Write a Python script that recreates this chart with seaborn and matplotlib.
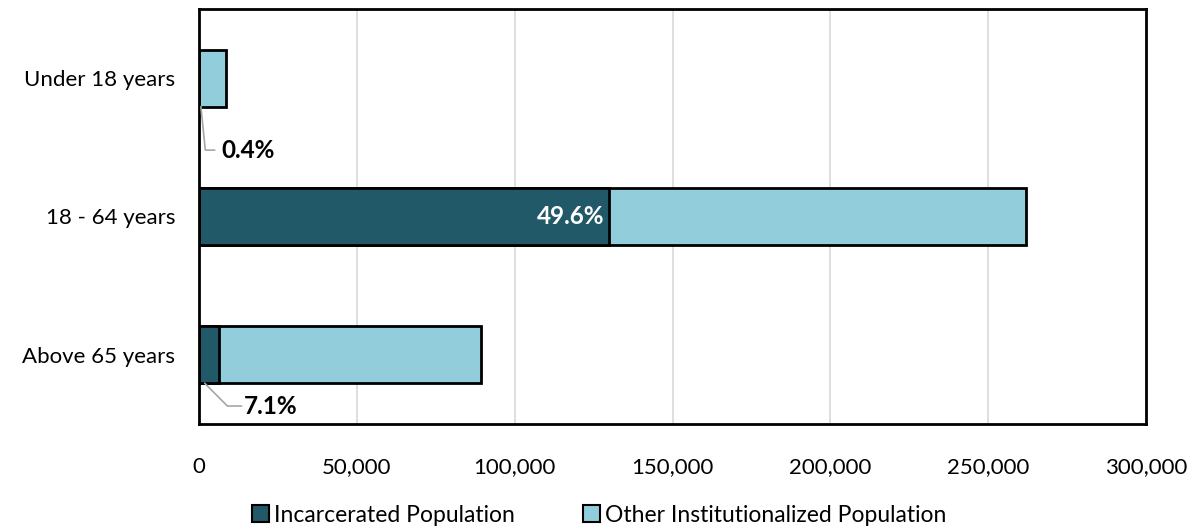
import matplotlib
matplotlib.use("Agg")
import matplotlib.pyplot as plt
import seaborn as sns
import pandas as pd
import numpy as np
from matplotlib.ticker import FuncFormatter
from matplotlib.patches import Patch

# Institutionalized population by age group
age_groups = ["Under 18 years", "18 - 64 years", "Above 65 years"]
incarcerated = [34, 129900, 6340]
other_institutionalized = [8500, 132100, 82960]
pct_labels = ["0.4%", "49.6%", "7.1%"]

dark = "#215968"
light = "#92CDDC"

sns.set_theme(style="white")
plt.rcParams["font.family"] = ["Lato", "DejaVu Sans"]
plt.rcParams["text.color"] = "black"

df = pd.DataFrame({
    "age": age_groups,
    "incarcerated": incarcerated,
    "total": np.array(incarcerated) + np.array(other_institutionalized),
})

fig = plt.figure(figsize=(11.98, 5.29), dpi=100)
ax = fig.add_axes([199 / 1198, 1 - 424 / 529, (1146 - 199) / 1198, (424 - 9) / 529])

# stacked bars: full total in light, incarcerated share drawn over it
sns.barplot(data=df, y="age", x="total", color=light, edgecolor="black",
            linewidth=2, width=0.41, orient="h", saturation=1, ax=ax, zorder=3)
sns.barplot(data=df, y="age", x="incarcerated", color=dark, edgecolor="black",
            linewidth=2, width=0.41, orient="h", saturation=1, ax=ax, zorder=4)

ax.set_xlim(0, 300000)
ax.set_ylim(2.5, -0.5)
ax.set_xticks(np.arange(0, 300001, 50000))
ax.xaxis.set_major_formatter(FuncFormatter(lambda v, _: f"{int(v):,}"))
ax.grid(axis="x", color="#d9d9d9", linewidth=1.2, zorder=0)
ax.set_axisbelow(True)
ax.set_xlabel("")
ax.set_ylabel("")
ax.tick_params(axis="x", pad=24, labelsize=16, length=0, colors="black")
ax.tick_params(axis="y", pad=17, labelsize=16, length=0, colors="black")
for s in ax.spines.values():
    s.set_visible(True)
    s.set_color("black")
    s.set_linewidth(2)
    s.set_zorder(5)

# value labels
lead = dict(color="#a6a6a6", lw=1.2)
# Under 18
ax.plot([600, 2000, 5000], [0.205, 0.52, 0.52], **lead, zorder=6, clip_on=False)
ax.text(7200, 0.52, pct_labels[0], fontsize=17.5, fontweight="bold", color="black",
        va="center", ha="left")
# 18 - 64
ax.text(incarcerated[1] - 1500, 1, pct_labels[1], fontsize=17.5, fontweight="bold",
        color="white", va="center", ha="right", zorder=6)
# Above 65
ax.plot([1800, 9000, 13500], [2.205, 2.37, 2.37], **lead, zorder=6, clip_on=False)
ax.text(14300, 2.37, pct_labels[2], fontsize=17.5, fontweight="bold", color="black",
        va="center", ha="left")

handles = [Patch(facecolor=dark, edgecolor="black", linewidth=1.5, label="Incarcerated Population"),
           Patch(facecolor=light, edgecolor="black", linewidth=1.5, label="Other Institutionalized Population")]
fig.legend(handles=handles, loc="center", bbox_to_anchor=(0.5, 1 - 515 / 529), ncol=2,
           frameon=False, fontsize=16.5, handlelength=0.75, handleheight=0.75,
           handletextpad=0.2, columnspacing=3.0, labelcolor="black")

fig.savefig("out.png", dpi=100)
